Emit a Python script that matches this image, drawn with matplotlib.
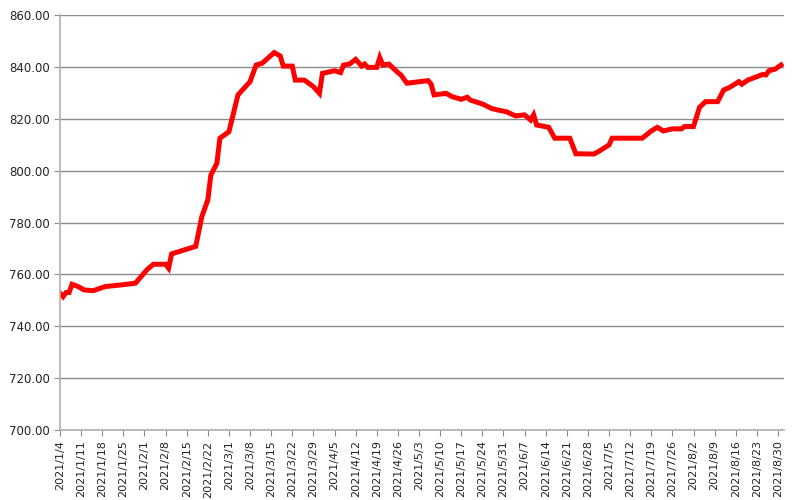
import matplotlib
matplotlib.use('Agg')
import matplotlib.pyplot as plt
import matplotlib.dates as mdates
import pandas as pd

# price readings (date, value)
dates = ['2021-01-04', '2021-01-05', '2021-01-06', '2021-01-07', '2021-01-08', '2021-01-10',
         '2021-01-12', '2021-01-15', '2021-01-19', '2021-01-24', '2021-01-29', '2021-02-02',
         '2021-02-04', '2021-02-08', '2021-02-09', '2021-02-10', '2021-02-18', '2021-02-20',
         '2021-02-22', '2021-02-23', '2021-02-25', '2021-02-26', '2021-03-01', '2021-03-04',
         '2021-03-08', '2021-03-10', '2021-03-12', '2021-03-16', '2021-03-18', '2021-03-19',
         '2021-03-22', '2021-03-23', '2021-03-26', '2021-03-29', '2021-03-31', '2021-04-01',
         '2021-04-05', '2021-04-07', '2021-04-08', '2021-04-10', '2021-04-12', '2021-04-14',
         '2021-04-15', '2021-04-16', '2021-04-19', '2021-04-20', '2021-04-21', '2021-04-23',
         '2021-04-26', '2021-04-27', '2021-04-29', '2021-05-06', '2021-05-07', '2021-05-08',
         '2021-05-12', '2021-05-14', '2021-05-17', '2021-05-19', '2021-05-20', '2021-05-24',
         '2021-05-27', '2021-05-29', '2021-06-01', '2021-06-04', '2021-06-07', '2021-06-09',
         '2021-06-10', '2021-06-11', '2021-06-15', '2021-06-17', '2021-06-22', '2021-06-24',
         '2021-06-30', '2021-07-02', '2021-07-05', '2021-07-06', '2021-07-16', '2021-07-19',
         '2021-07-21', '2021-07-23', '2021-07-26', '2021-07-29', '2021-07-30', '2021-08-02',
         '2021-08-04', '2021-08-06', '2021-08-10', '2021-08-12', '2021-08-14', '2021-08-17',
         '2021-08-18', '2021-08-20', '2021-08-25', '2021-08-26', '2021-08-27', '2021-08-29',
         '2021-08-31']
prices = [752.7, 751.4, 753.0, 753.0, 756.2, 755.3,
          754.0, 753.7, 755.3, 755.9, 756.6, 762.0,
          763.9, 763.9, 762.4, 767.9, 770.8, 782.2,
          788.7, 798.3, 802.8, 812.5, 815.0, 829.2,
          834.3, 840.7, 841.4, 845.5, 844.2, 840.3,
          840.3, 834.9, 834.9, 832.4, 829.8, 837.5,
          838.5, 837.8, 840.7, 841.1, 842.9, 840.3,
          841.1, 839.8, 839.8, 843.6, 840.7, 841.1,
          837.8, 836.9, 833.7, 834.7, 833.4, 829.2,
          829.8, 828.5, 827.5, 828.3, 827.2, 825.7,
          824.0, 823.4, 822.7, 821.1, 821.5, 819.5,
          821.5, 817.6, 816.7, 812.5, 812.5, 806.5,
          806.4, 807.7, 809.9, 812.5, 812.5, 815.3,
          816.7, 815.3, 816.1, 816.1, 817.0, 817.0,
          824.4, 826.6, 826.6, 831.1, 832.1, 834.3,
          833.3, 834.9, 837.1, 836.9, 838.5, 839.1,
          840.7]

x = pd.to_datetime(dates)
ticks = pd.date_range('2021-01-04', '2021-08-30', freq='7D')
tick_labels = [f'{d.year}/{d.month}/{d.day}' for d in ticks]

fig = plt.figure(figsize=(8, 5), dpi=100)
ax = fig.add_axes([0.075, 0.14, 0.905, 0.83])

ax.plot(x, prices, color='#ff0000', linewidth=3.6, solid_joinstyle='miter')

ax.set_ylim(700, 860)
ax.set_yticks(range(700, 861, 20))
ax.set_yticklabels([f'{v:.2f}' for v in range(700, 861, 20)], fontsize=8.5)
ax.set_xlim(pd.Timestamp('2021-01-04'), pd.Timestamp('2021-09-01'))
ax.set_xticks(ticks)
ax.set_xticklabels(tick_labels, rotation=90, fontsize=8)

ax.grid(axis='y', color='#8c8c8c', linewidth=1)
ax.set_axisbelow(True)
for s in ['top', 'right']:
    ax.spines[s].set_visible(False)
for s in ['left', 'bottom']:
    ax.spines[s].set_color('#b0b0b0')
    ax.spines[s].set_linewidth(1.2)
ax.tick_params(axis='both', color='#8c8c8c', length=4, labelcolor='#222222')

plt.savefig('out.png', dpi=100)
